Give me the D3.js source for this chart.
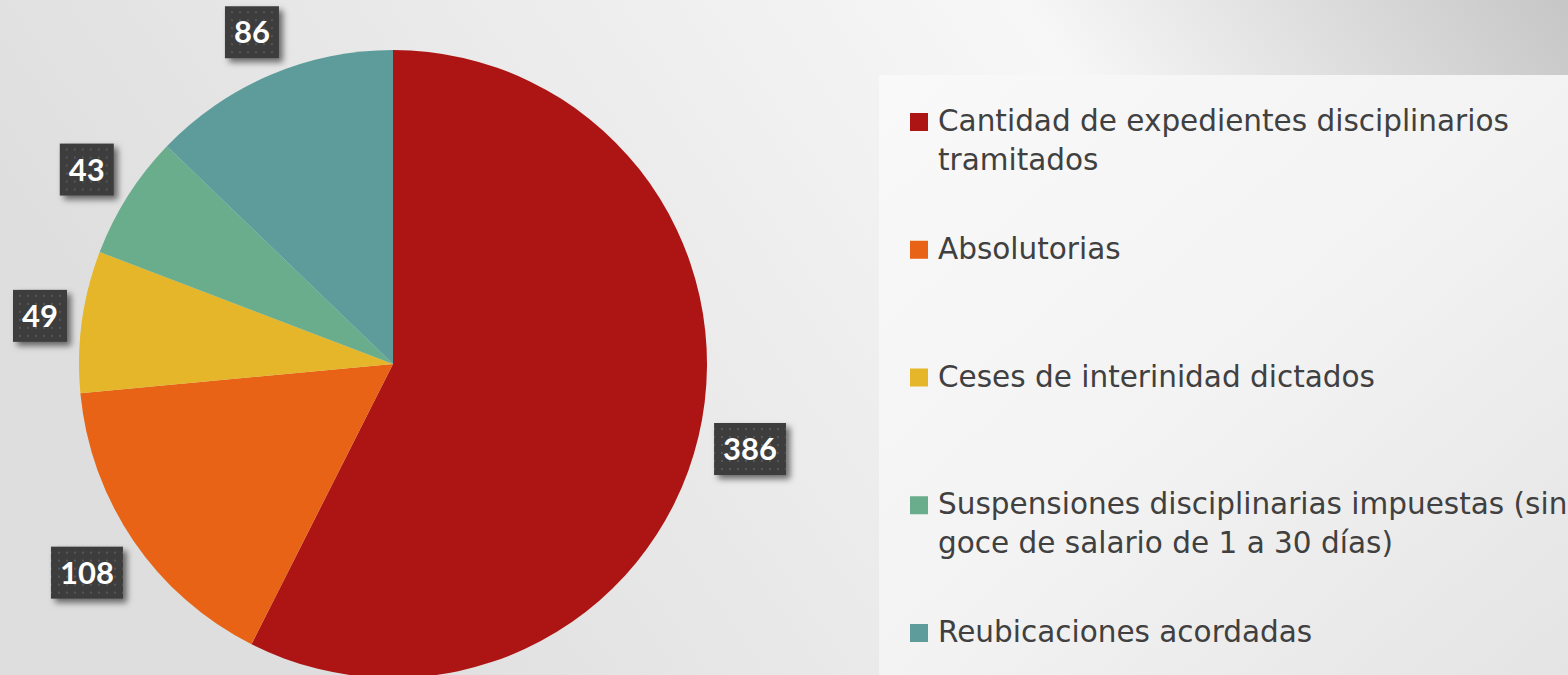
<!DOCTYPE html>
<html>
<head>
<meta charset="utf-8">
<script src="https://cdn.jsdelivr.net/npm/d3@7"></script>
<style>
  html, body { margin: 0; padding: 0; }
  body { width: 1568px; height: 675px; overflow: hidden; }
  svg { display: block; }
</style>
</head>
<body>
<div id="chart"></div>
<script>
(() => {
  // ------- data -------
  const categories = [
    "Cantidad de expedientes disciplinarios tramitados",
    "Absolutorias",
    "Ceses de interinidad dictados",
    "Suspensiones disciplinarias impuestas (sin goce de salario de 1 a 30 días)",
    "Reubicaciones acordadas"
  ];
  const values = [386, 108, 49, 43, 86];
  // legend lines as wrapped in the original
  const legendLines = [
    ["Cantidad de expedientes disciplinarios", "tramitados"],
    ["Absolutorias"],
    ["Ceses de interinidad dictados"],
    ["Suspensiones disciplinarias impuestas (sin", "goce de salario de 1 a 30 días)"],
    ["Reubicaciones acordadas"]
  ];
  const colors = ["#ad1515", "#e86315", "#e5b629", "#69ad8c", "#5e9c9c"];

  const W = 1568, H = 675;
  const cx = 393, cy = 364, R = 314;

  const svg = d3.select("#chart").append("svg")
    .attr("width", W).attr("height", H);

  const defs = svg.append("defs");

  // page background
  const bg = defs.append("linearGradient").attr("id", "bg")
    .attr("x1", "0").attr("y1", "0.3").attr("x2", "1").attr("y2", "0");
  bg.append("stop").attr("offset", "0").attr("stop-color", "#dedede");
  bg.append("stop").attr("offset", "0.68").attr("stop-color", "#f7f7f7");
  bg.append("stop").attr("offset", "1").attr("stop-color", "#c6c6c6");

  // legend panel
  const lg = defs.append("linearGradient").attr("id", "lg")
    .attr("x1", "0").attr("y1", "0").attr("x2", "1").attr("y2", "1");
  lg.append("stop").attr("offset", "0").attr("stop-color", "#f9f9f9");
  lg.append("stop").attr("offset", "0.5").attr("stop-color", "#f3f3f3");
  lg.append("stop").attr("offset", "1").attr("stop-color", "#e4e4e4");

  // dotted label box pattern
  const pat = defs.append("pattern").attr("id", "dots")
    .attr("width", 8).attr("height", 8).attr("patternUnits", "userSpaceOnUse");
  pat.append("rect").attr("width", 8).attr("height", 8).attr("fill", "#3c3c3c");
  pat.append("rect").attr("x", 3).attr("y", 3).attr("width", 2).attr("height", 2).attr("fill", "#565656");

  const shadow = defs.append("filter").attr("id", "shadow")
    .attr("x", "-30%").attr("y", "-30%").attr("width", "170%").attr("height", "170%");
  shadow.append("feDropShadow").attr("dx", 4).attr("dy", 4).attr("stdDeviation", 3)
    .attr("flood-color", "#000").attr("flood-opacity", 0.55);

  svg.append("rect").attr("width", W).attr("height", H).attr("fill", "url(#bg)");

  // legend panel
  svg.append("rect")
    .attr("x", 879).attr("y", 75).attr("width", W - 879).attr("height", H - 75)
    .attr("fill", "url(#lg)");

  // ------- pie -------
  const pie = d3.pie().sort(null).value(d => d)(values);
  const arc = d3.arc().innerRadius(0).outerRadius(R);

  const g = svg.append("g").attr("transform", `translate(${cx},${cy})`);

  g.selectAll("path.slice")
    .data(pie)
    .enter().append("path")
    .attr("class", "slice")
    .attr("d", arc)
    .attr("fill", (d, i) => colors[i]);

  // ------- data labels (outside end) -------
  const gap = 12;
  const boxH = 52;
  const labels = g.selectAll("g.lbl")
    .data(pie)
    .enter().append("g")
    .attr("class", "lbl");

  labels.each(function(d) {
    const sel = d3.select(this);
    const t = sel.append("text")
      .attr("text-anchor", "middle")
      .attr("dy", "0.36em")
      .attr("fill", "#ffffff")
      .style("font-family", "Lato, 'Open Sans', sans-serif")
      .style("font-weight", "700")
      .style("font-size", "31px")
      .text(d.value);
    const tw = t.node().getComputedTextLength();
    const bw = Math.round(tw + 18);
    const a = (d.startAngle + d.endAngle) / 2;
    const ux = Math.sin(a), uy = -Math.cos(a);
    const ext = Math.abs(ux) * bw / 2 + Math.abs(uy) * boxH / 2;
    const dist = R + gap + ext;
    const px = ux * dist, py = uy * dist;
    sel.attr("transform", `translate(${px},${py})`);
    sel.insert("rect", "text")
      .attr("x", -bw / 2).attr("y", -boxH / 2)
      .attr("width", bw).attr("height", boxH)
      .attr("fill", "url(#dots)")
      .attr("filter", "url(#shadow)");
  });

  // ------- legend -------
  const ly = d3.scalePoint().domain(categories).range([131, 642]);
  const lineH = 39;

  const leg = svg.append("g").selectAll("g.leg")
    .data(categories)
    .enter().append("g")
    .attr("class", "leg")
    .attr("transform", d => `translate(910,${ly(d)})`);

  leg.append("rect")
    .attr("x", 0).attr("y", -18)
    .attr("width", 18).attr("height", 18)
    .attr("fill", (d, i) => colors[i]);

  leg.append("text")
    .attr("x", 28)
    .attr("fill", "#404040")
    .style("font-family", "'DejaVu Sans', sans-serif")
    .style("font-size", "29.5px")
    .each(function(d, i) {
      const t = d3.select(this);
      legendLines[i].forEach((line, k) => {
        t.append("tspan").attr("x", 28).attr("y", k * lineH).text(line);
      });
    });
})();
</script>
</body>
</html>
